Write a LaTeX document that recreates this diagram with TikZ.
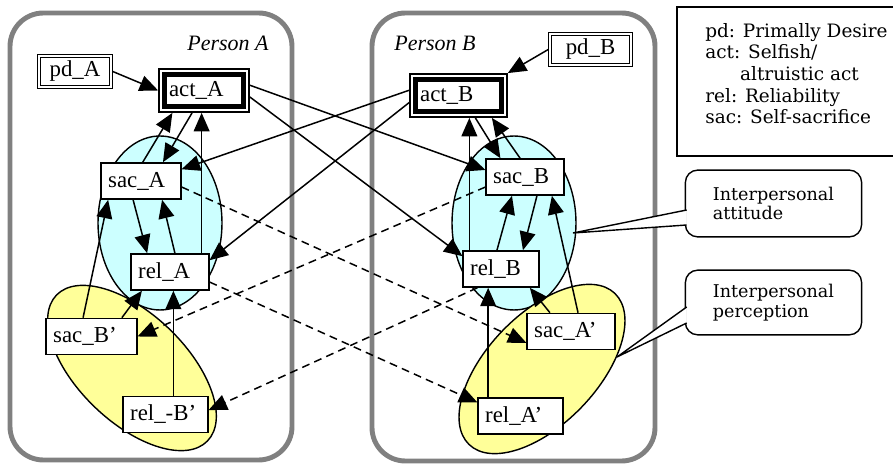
\documentclass[tikz,border=0pt]{standalone}
\usepackage{fontspec}
\setmainfont{Liberation Serif}
\newfontfamily\notefont{DejaVu Serif}
\usetikzlibrary{arrows.meta,shapes.geometric}

\definecolor{attcyan}{RGB}{204,255,255}
\definecolor{percyellow}{RGB}{255,255,153}
\definecolor{framegray}{RGB}{128,128,128}

\tikzset{
    varfont/.style={font=\fontsize{13}{15}\selectfont},
    var/.style={draw, fill=white, line width=0.8pt, varfont, text width=#1, align=left,
        inner xsep=4pt, inner ysep=0pt, minimum height=20.6pt},
    pdbox/.style={draw, fill=white, double, double distance=1.1pt, line width=0.65pt, varfont,
        minimum width=#1, minimum height=17.3pt, inner sep=0pt, outer sep=1.2pt},
    actbox/.style={draw, fill=white, line width=2.8pt, varfont, text width=#1, align=left,
        inner xsep=2.8pt, inner ysep=0pt, minimum height=18.7pt, outer sep=3.4pt,
        preaction={draw, line width=6.8pt},
        preaction={draw=white, line width=5.1pt}},
    attitude/.style={draw, fill=attcyan, ellipse, line width=0.8pt, inner sep=0pt},
    percept/.style={draw, fill=percyellow, ellipse, line width=0.8pt, inner sep=0pt},
    personframe/.style={draw=framegray, line width=2.8pt, rounded corners=19pt},
    persontxt/.style={font=\itshape\fontsize{12.5}{14}\selectfont},
    callbox/.style={draw, fill=white, line width=0.8pt, rounded corners=7pt, align=left,
        font=\notefont\fontsize{10}{11.3}\selectfont, minimum width=100.3pt},
    legend/.style={font=\notefont\fontsize{10.5}{12.3}\selectfont, align=left, inner sep=0pt},
    arr/.style={-{Triangle[length=10.5pt,width=9pt]}, line width=0.85pt},
    dasharr/.style={arr, dash pattern=on 4.5pt off 3pt}
}

\begin{document}
\begin{tikzpicture}[x=0.02cm, y=-0.02cm]
    \useasboundingbox (0,0) rectangle (893,465);

    % persons
    \draw[personframe] (10,13) rectangle (292,460);
    \draw[personframe] (372,13) rectangle (655,461);
    \node[persontxt] (personA) at (228,43) {Person A};
    \node[persontxt] (personB) at (435,43) {Person B};

    % attitude / perception areas
    \node[percept, minimum width=4.2cm, minimum height=2.16cm, rotate=-44] (percA) at (132,368) {};
    \node[attitude, minimum width=2.48cm, minimum height=3.48cm] (attA) at (160,223) {};
    \node[attitude, minimum width=2.48cm, minimum height=3.48cm] (attB) at (514,223) {};
    \node[percept, minimum width=4.2cm, minimum height=2.2cm, rotate=46] (percB) at (542,369) {};

    % variables
    \node[pdbox=40.6pt] (pdA) at (75,71.5) {pd\_A};
    \node[pdbox=45.7pt] (pdB) at (590.5,49.5) {pd\_B};
    \node[actbox=39.8pt] (actA) at (204,90.5) {act\_A};
    \node[actbox=43.7pt] (actB) at (458.5,95.5) {act\_B};

    \node[var=37.4pt] (sacA) at (141,181) {sac\_A};
    \node[var=36.2pt] (relA) at (170,272) {rel\_A};
    \node[var=43.6pt] (sacBp) at (91.5,336.5) {sac\_B’};
    \node[var=40.2pt] (relmBp) at (165.5,414.5) {rel\_-B’};

    \node[var=36.2pt] (sacB) at (525,177) {sac\_B};
    \node[var=35.1pt] (relB) at (501,269) {rel\_B};
    \node[var=41.9pt] (sacAp) at (571,331.5) {sac\_A’};
    \node[var=40.2pt] (relAp) at (520.5,416) {rel\_A’};

    % links inside person A
    \draw[arr] (pdA.east) -- (actA.west);
    \draw[arr] ([xshift=1pt]sacA.north) -- ([xshift=-18pt]actA.south);
    \draw[arr] ([xshift=-6.8pt]actA.south) -- ([xshift=12.5pt]sacA.north);
    \draw[arr] ([xshift=18pt]relA.north) -- ([xshift=18pt]relA.north |- actA.south);
    \draw[arr] ([xshift=-4.5pt]sacA.south) -- ([xshift=-13pt]relA.north);
    \draw[arr] ([xshift=2.8pt]relA.north) -- ([xshift=12pt]sacA.south);
    \draw[arr] ([xshift=-4.8pt]sacBp.north) -- ([xshift=-18.7pt]sacA.south);
    \draw[arr] ([xshift=17.3pt]sacBp.north) -- ([xshift=-16pt]relA.south);
    \draw[arr] ([xshift=4.5pt]relmBp.north) -- ([xshift=4.5pt]relmBp.north |- relA.south);

    % links inside person B
    \draw[arr] (pdB.west) -- (actB.north east);
    \draw[arr] ([xshift=-18pt]relB.north) -- ([xshift=-18pt]relB.north |- actB.south);
    \draw[arr] ([xshift=9.6pt]actB.south) -- ([xshift=-14pt]sacB.north);
    \draw[arr] ([xshift=-2.8pt]sacB.north) -- ([xshift=19pt]actB.south);
    \draw[arr] ([xshift=-2.3pt]relB.north) -- ([xshift=-7.4pt]sacB.south);
    \draw[arr] ([xshift=6.8pt]sacB.south) -- ([xshift=12.5pt]relB.north);
    \draw[arr] ([xshift=4pt]sacAp.north) -- ([xshift=15.3pt]sacB.south);
    \draw[arr] ([xshift=-12pt]sacAp.north) -- ([xshift=16.4pt]relB.south);
    \draw[arr] ([xshift=-18.4pt]relAp.north) -- ([xshift=-18.4pt]relAp.north |- relB.south);

    % acts on the other person
    \draw[arr] ([yshift=3pt]actB.west) -- ([yshift=-4pt]sacA.north east);
    \draw[arr] ([yshift=-4pt]actB.west) -- ([yshift=-4pt]relA.north east);
    \draw[arr] ([yshift=3pt]actA.east) -- ([yshift=4pt]sacB.west);
    \draw[arr] ([yshift=-3.7pt]actA.east) -- ([yshift=-3.4pt]relB.north west);

    % perceived by the other person
    \draw[dasharr] ([yshift=-3.4pt]sacA.east) -- ([yshift=-6.5pt]sacAp.west);
    \draw[dasharr] ([yshift=-5.7pt]relA.east) -- ([yshift=-3pt]relAp.north west);
    \draw[dasharr] ([yshift=-5.7pt]sacB.west) -- (sacBp.east);
    \draw[dasharr] ([xshift=8.5pt]relB.south west) -- ([yshift=2.5pt]relmBp.east);

    % legend
    \draw[line width=0.8pt] (677,7) rectangle (897,156);
    \node[legend, anchor=north west] (legend) at (705,23)
        {pd: Primally Desire\\act: Selfish/\\\hspace*{19.8pt}altruistic act\\rel: Reliability\\sac: Self-sacrifice};

    % callouts
    \node[callbox, minimum height=38pt] (attNote) at (773.5,203.5) {Interpersonal\\attitude};
    \coordinate (attTip) at (573,233);
    \filldraw[fill=white, line width=0.8pt] ([shift={(2,6.5)}]attNote.west) -- (attTip) -- ([shift={(2,21.5)}]attNote.west);

    \node[callbox, minimum height=36.8pt] (percNote) at (773.5,302.5) {Interpersonal\\perception};
    \coordinate (percTip) at (617,357);
    \filldraw[fill=white, line width=0.8pt] ([shift={(2,4.5)}]percNote.west) -- (percTip) -- ([shift={(2,20.5)}]percNote.west);
\end{tikzpicture}
\end{document}
